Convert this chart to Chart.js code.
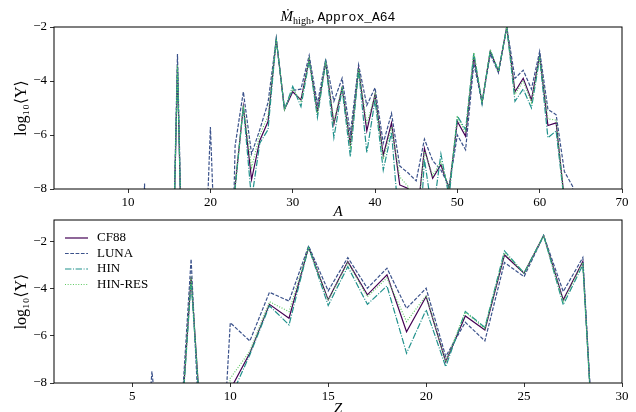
<!DOCTYPE html>
<html>
<head>
<meta charset="utf-8">
<script src="https://cdn.jsdelivr.net/npm/chart.js@4.4.1/dist/chart.umd.min.js"></script>
<style>
  html, body { margin: 0; padding: 0; background: #fff; overflow: hidden; }
  #wrap { position: relative; width: 636px; height: 412px; overflow: hidden; background: #fff; }
  canvas { position: absolute; left: 0; }
  #top-chart { top: 0; width: 636px; height: 224px; }
  #bottom-chart { top: 206px; width: 636px; height: 216px; }
</style>
</head>
<body>
<div id="wrap">
  <canvas id="top-chart" width="636" height="224"></canvas>
  <canvas id="bottom-chart" width="636" height="216"></canvas>
</div>
<script>
// mass number A (top panel)
const massNumbers = [
  11, 12, 13, 14, 15, 16, 17, 18, 19, 20, 21, 22, 23, 24, 25, 26, 27, 28, 29, 30,
  31, 32, 33, 34, 35, 36, 37, 38, 39, 40, 41, 42, 43, 44, 45, 46, 47, 48, 49, 50,
  51, 52, 53, 54, 55, 56, 57, 58, 59, 60, 61, 62, 63, 64, 65, 66,
];
const cf88ByA = [
  -20, -20, -20, -20, -17, -3.5, -17, -20, -20, -20, -20, -20, -7.9, -4.95, -7.65, -6.2, -5.5, -2.45, -5.05, -4.4,
  -4.7, -3.2, -5.15, -3.3, -5.6, -4.25, -6.35, -3.55, -5.85, -4.5, -6.75, -5.55, -7.85, -7.98, -9.4, -6.5, -7.6, -7.1, -8.0, -5.5,
  -6.05, -3.1, -4.8, -2.9, -3.65, -2.0, -4.4, -3.9, -4.7, -3.05, -5.65, -5.55, -8.4, -20, -20, -20,
];
const lunaByA = [
  -20, -7.8, -20, -20, -17, -3.0, -17, -20, -14, -5.7, -14, -20, -6.4, -4.4, -6.7, -5.8, -4.8, -2.45, -5.05, -4.35,
  -4.3, -3.05, -4.85, -3.2, -4.75, -3.9, -5.95, -3.4, -4.9, -4.25, -6.3, -5.2, -7.15, -7.4, -7.7, -6.15, -6.95, -7.3, -7.9, -6.0,
  -6.55, -3.35, -4.8, -3.0, -3.7, -2.0, -3.9, -3.6, -4.3, -2.9, -5.05, -5.25, -7.35, -7.9, -20, -20,
];
const hinByA = [
  -20, -20, -20, -20, -17, -3.5, -17, -20, -20, -20, -20, -20, -8.0, -4.95, -8.4, -6.3, -5.8, -2.45, -5.05, -4.2,
  -4.95, -3.25, -5.35, -3.3, -6.1, -4.3, -6.8, -3.6, -6.65, -4.7, -7.3, -5.9, -9.6, -11, -12, -6.9, -9.0, -6.7, -8.3, -5.3,
  -5.8, -2.95, -4.85, -2.85, -3.65, -2.0, -4.75, -4.3, -5.0, -3.15, -6.1, -5.85, -8.5, -20, -20, -20,
];
const hinResByA = [
  -20, -20, -20, -20, -17, -3.4, -17, -20, -20, -20, -20, -20, -7.9, -4.9, -7.2, -6.0, -5.3, -2.45, -5.05, -4.3,
  -4.75, -3.2, -5.2, -3.3, -5.5, -4.2, -6.4, -3.55, -5.6, -4.5, -6.9, -5.7, -7.55, -7.9, -9.5, -6.6, -7.5, -7.0, -8.0, -5.35,
  -5.9, -2.95, -4.8, -2.85, -3.65, -2.0, -4.5, -4.0, -4.8, -3.1, -5.4, -5.45, -8.45, -20, -20, -20,
];

// proton number Z (bottom panel)
const protonNumbers = [
  1, 2, 3, 4, 5, 6, 7, 8, 9, 10, 11, 12, 13, 14, 15, 16, 17, 18, 19, 20,
  21, 22, 23, 24, 25, 26, 27, 28, 29,
];
const cf88ByZ = [
  -20, -20, -20, -20, -20, -20, -16, -3.5, -16, -8.28, -6.73, -4.67, -5.26, -2.25, -4.48, -2.86, -4.27, -3.42, -5.83, -4.34,
  -7.1, -5.16, -5.76, -2.58, -3.35, -1.76, -4.48, -2.86, -17.5,
];
const lunaByZ = [
  -20, -20, -20, -20, -20, -7.5, -16, -2.75, -20, -5.45, -6.22, -4.16, -4.53, -2.2, -4.1, -2.69, -3.99, -3.14, -4.84, -3.99,
  -6.88, -5.43, -6.22, -2.9, -3.5, -1.76, -4.13, -2.69, -17.5,
];
const hinByZ = [
  -20, -20, -20, -20, -20, -20, -16, -3.7, -16, -8.65, -6.8, -4.73, -5.54, -2.25, -4.72, -3.07, -4.67, -3.89, -6.74, -4.9,
  -7.31, -4.97, -5.65, -2.41, -3.35, -1.76, -4.69, -3.0, -17.5,
];
const hinResByZ = [
  -20, -20, -20, -20, -20, -20, -16, -3.5, -16, -7.8, -6.65, -4.56, -4.98, -2.25, -4.5, -2.9, -4.35, -3.55, -5.4, -4.3,
  -7.1, -5.0, -5.7, -2.5, -3.35, -1.76, -4.55, -2.9, -17.5,
];

const seriesNames = ["CF88", "LUNA", "HIN", "HIN-RES"];
const topXTicks = [10, 20, 30, 40, 50, 60, 70];
const bottomXTicks = [5, 10, 15, 20, 25, 30];
const yTicks = [-8, -6, -4, -2];

const colors = ["#440154", "#3b528b", "#21918c", "#5ec962"];
const dashes = [[], [3.7, 1.6], [6.4, 1.6, 1, 1.6], [1, 1.65]];
const serif = '"Liberation Serif", "DejaVu Serif", serif';

Chart.defaults.color = "#000";
Chart.defaults.font.family = serif;

function points(xs, ys) {
  return xs.map((x, i) => ({ x: x, y: ys[i] }));
}

function makeDatasets(xs, lists) {
  return lists.map((ys, i) => ({
    label: seriesNames[i],
    data: points(xs, ys),
    borderColor: colors[i],
    borderWidth: 1.2,
    borderDash: dashes[i],
    pointRadius: 0,
    fill: false,
    tension: 0,
    order: 4 - i,
  }));
}

const minus = (v) => String(v).replace("-", "\u2212");

function makeOptions(cfg) {
  return {
    responsive: false,
    animation: false,
    devicePixelRatio: 1,
    layout: { padding: { top: cfg.padTop, right: 14, left: 0, bottom: 0 } },
    plugins: { legend: { display: false }, tooltip: { enabled: false } },
    scales: {
      x: {
        type: "linear",
        min: cfg.xMin,
        max: cfg.xMax,
        afterBuildTicks: (s) => { s.ticks = cfg.xTicks.map((v) => ({ value: v })); },
        afterFit: (s) => { s.height = cfg.xHeight; },
        ticks: { font: { size: 13 }, padding: 2, maxRotation: 0, autoSkip: false },
        grid: { drawOnChartArea: false, color: "#000", tickLength: 4, lineWidth: 0.8 },
        border: { display: false },
        title: {
          display: true,
          text: cfg.xTitle,
          font: { size: 15, style: "italic" },
          padding: { top: 0, bottom: cfg.xTitlePad },
        },
      },
      y: {
        min: -8,
        max: cfg.yMax,
        afterBuildTicks: (s) => { s.ticks = yTicks.map((v) => ({ value: v })); },
        afterFit: (s) => { s.width = 54; },
        ticks: { font: { size: 13 }, padding: 3, callback: minus },
        grid: { drawOnChartArea: false, color: "#000", tickLength: 4, lineWidth: 0.8 },
        border: { display: false },
        title: {
          display: true,
          text: "log\u2081\u2080\u27e8Y\u27e9",
          font: { size: 16 },
          padding: { top: 12, bottom: 0 },
        },
      },
    },
  };
}

// axes frame on all four sides
const framePlugin = {
  id: "frame",
  afterDatasetsDraw(chart) {
    const { ctx, chartArea: a } = chart;
    ctx.save();
    ctx.strokeStyle = "#000";
    ctx.lineWidth = 1;
    ctx.strokeRect(a.left, a.top, a.right - a.left, a.bottom - a.top);
    ctx.restore();
  },
};

// title: M-dot_high, Approx_A64
const titlePlugin = {
  id: "mixedTitle",
  afterDraw(chart) {
    const { ctx, chartArea: a } = chart;
    const parts = [
      { t: "\u1e40", f: "italic 15px " + serif, dy: 0 },
      { t: "high", f: "10px " + serif, dy: 3 },
      { t: ", ", f: "13px " + serif, dy: 0 },
      { t: "Approx_A64", f: '13px "Liberation Mono", "DejaVu Sans Mono", monospace', dy: 0 },
    ];
    ctx.save();
    let w = 0;
    parts.forEach((p) => { ctx.font = p.f; p.w = ctx.measureText(p.t).width; w += p.w; });
    let x = (a.left + a.right) / 2 - w / 2;
    const base = 21;
    ctx.fillStyle = "#000";
    ctx.textBaseline = "alphabetic";
    parts.forEach((p) => { ctx.font = p.f; ctx.fillText(p.t, x, base + p.dy); x += p.w; });
    ctx.restore();
  },
};

// legend in the upper left of the lower panel
const legendPlugin = {
  id: "innerLegend",
  afterDraw(chart) {
    const { ctx, chartArea: a } = chart;
    ctx.save();
    ctx.font = "13px " + serif;
    ctx.textBaseline = "middle";
    chart.data.datasets.forEach((ds, i) => {
      const y = a.top + 18 + i * 15.5;
      ctx.strokeStyle = ds.borderColor;
      ctx.lineWidth = 1.2;
      ctx.setLineDash(ds.borderDash);
      ctx.beginPath();
      ctx.moveTo(a.left + 11, y);
      ctx.lineTo(a.left + 34, y);
      ctx.stroke();
      ctx.setLineDash([]);
      ctx.fillStyle = "#000";
      ctx.fillText(ds.label, a.left + 43, y);
    });
    ctx.restore();
  },
};

new Chart(document.getElementById("top-chart"), {
  type: "line",
  data: { datasets: makeDatasets(massNumbers, [cf88ByA, lunaByA, hinByA, hinResByA]) },
  options: makeOptions({
    padTop: 27, xMin: 1, xMax: 70, yMax: -2, xTicks: topXTicks,
    xHeight: 35, xTitle: "A", xTitlePad: 3,
  }),
  plugins: [framePlugin, titlePlugin],
});

new Chart(document.getElementById("bottom-chart"), {
  type: "line",
  data: { datasets: makeDatasets(protonNumbers, [cf88ByZ, lunaByZ, hinByZ, hinResByZ]) },
  options: makeOptions({
    padTop: 14, xMin: 1, xMax: 30, yMax: -1.1, xTicks: bottomXTicks,
    xHeight: 39, xTitle: "Z", xTitlePad: 4,
  }),
  plugins: [framePlugin, legendPlugin],
});
</script>
</body>
</html>
